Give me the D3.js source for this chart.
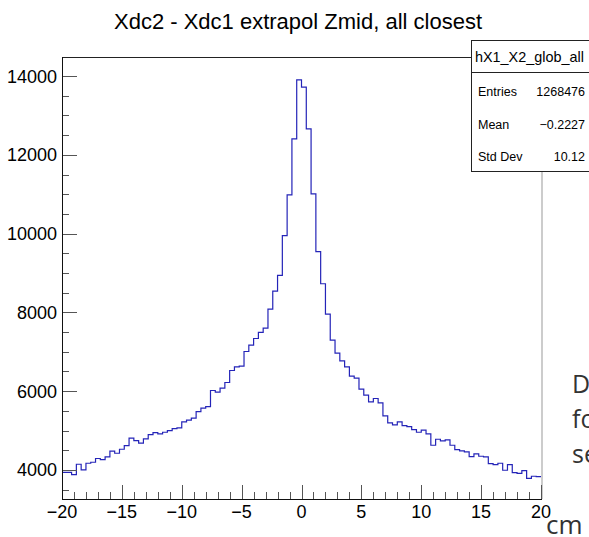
<!DOCTYPE html>
<html>
<head>
<meta charset="utf-8">
<script src="https://cdnjs.cloudflare.com/ajax/libs/d3/7.8.5/d3.min.js"></script>
<style>
    body { margin: 0; background: #fff; }
    svg { display: block; }
</style>
</head>
<body>
<script>
// histogram contents, 100 bins of 0.4 cm from -20 to 20
var binLow = -20;
var binWidth = 0.4;
var counts = [
    3940, 3940, 3880, 4144, 4000, 4170, 4195, 4290, 4263, 4330,
    4475, 4423, 4525, 4618, 4805, 4745, 4678, 4788, 4898, 4949,
    4915, 4957, 5000, 5050, 5067, 5220, 5262, 5313, 5482, 5567,
    5609, 6016, 5973, 6075, 6219, 6524, 6617, 6634, 7007, 7168,
    7337, 7490, 7600, 8083, 8541, 8938, 9947, 10981, 12404, 13903,
    13716, 12658, 11006, 9540, 8727, 7956, 7295, 6965, 6770, 6617,
    6380, 6329, 6050, 5897, 5728, 5813, 5702, 5372, 5194, 5143,
    5220, 5126, 5101, 5025, 4957, 5008, 4915, 4627, 4779, 4737,
    4762, 4627, 4517, 4483, 4457, 4339, 4407, 4347, 4330, 4161,
    4135, 4170, 3992, 4135, 3932, 3915, 3983, 3788, 3839, 3830
];
var xTicks = [-20, -15, -10, -5, 0, 5, 10, 15, 20];
var yTicks = [4000, 6000, 8000, 10000, 12000, 14000];
var statLabels = ["Entries", "Mean", "Std Dev"];
var statValues = ["1268476", "\u22120.2227", "10.12"];
var sideWords = ["D", "fo", "se"];

window.onload = function () {
    var W = 589, H = 537;
    var fLeft = 62, fRight = 541, fTop = 57, fBottom = 499;
    var font = "'Liberation Sans', Arial, sans-serif";

    var svg = d3.select("body")
        .append("svg")
        .attr("width", W)
        .attr("height", H);

    var x = d3.scaleLinear().domain([-20, 20]).range([fLeft, fRight]);
    var y = d3.scaleLinear().domain([3262, 14483]).range([fBottom, fTop]);

    //title
    svg.append("text")
        .attr("x", 298).attr("y", 29)
        .attr("text-anchor", "middle")
        .style("font-family", font).style("font-size", "22px")
        .text("Xdc2 - Xdc1 extrapol Zmid, all closest");

    // frame top + right (right edge shows light grey)
    svg.append("line")
        .attr("x1", fLeft).attr("x2", fRight).attr("y1", fTop + 0.5).attr("y2", fTop + 0.5)
        .attr("stroke", "#222");
    svg.append("line")
        .attr("x1", fRight + 1).attr("x2", fRight + 1).attr("y1", fTop).attr("y2", fBottom)
        .attr("stroke", "#999");

    // histogram step line
    var pts = [];
    counts.forEach(function (c, i) {
        var x0 = binLow + i * binWidth;
        pts.push([x(x0), y(c)]);
        pts.push([x(x0 + binWidth), y(c)]);
    });
    svg.append("path")
        .attr("d", d3.line()(pts))
        .attr("fill", "none")
        .attr("stroke", "#2424b8")
        .attr("stroke-width", 1.2);

    // x axis
    var xMinor = d3.range(-20, 21, 1);
    svg.selectAll(".xmin")
        .data(xMinor)
        .enter()
        .append("line")
        .attr("x1", function (d) { return Math.round(x(d)) + 0.5; })
        .attr("x2", function (d) { return Math.round(x(d)) + 0.5; })
        .attr("y1", fBottom)
        .attr("y2", function (d) { return d % 5 === 0 ? fBottom - 14 : fBottom - 7; })
        .attr("stroke", "#555");
    svg.selectAll(".xlab")
        .data(xTicks)
        .enter()
        .append("text")
        .attr("x", function (d) { return x(d); })
        .attr("y", 518)
        .attr("text-anchor", "middle")
        .style("font-family", font).style("font-size", "18px")
        .text(function (d) { return d < 0 ? "\u2212" + (-d) : d; });
    svg.append("line")
        .attr("x1", fLeft).attr("x2", fRight + 1).attr("y1", fBottom + 0.5).attr("y2", fBottom + 0.5)
        .attr("stroke", "#111");

    // y axis
    var yMinor = d3.range(3500, 14500, 500);
    svg.selectAll(".ymin")
        .data(yMinor)
        .enter()
        .append("line")
        .attr("y1", function (d) { return Math.round(y(d)) + 0.5; })
        .attr("y2", function (d) { return Math.round(y(d)) + 0.5; })
        .attr("x1", fLeft)
        .attr("x2", function (d) { return d % 2000 === 0 ? fLeft + 15 : fLeft + 7; })
        .attr("stroke", "#555");
    svg.selectAll(".ylab")
        .data(yTicks)
        .enter()
        .append("text")
        .attr("x", 57)
        .attr("y", function (d) { return y(d) + 6.5; })
        .attr("text-anchor", "end")
        .style("font-family", font).style("font-size", "18px")
        .text(function (d) { return d; });
    svg.append("line")
        .attr("x1", fLeft + 0.5).attr("x2", fLeft + 0.5).attr("y1", fTop).attr("y2", fBottom + 1)
        .attr("stroke", "#111");

    // stat box
    var box = svg.append("g");
    box.append("rect")
        .attr("x", 471.5).attr("y", 40.5).attr("width", 120).attr("height", 131)
        .attr("fill", "#fff").attr("stroke", "#222");
    box.append("line")
        .attr("x1", 471.5).attr("x2", 589).attr("y1", 72.5).attr("y2", 72.5)
        .attr("stroke", "#222");
    box.append("text")
        .attr("x", 475).attr("y", 62)
        .style("font-family", font).style("font-size", "14.4px")
        .text("hX1_X2_glob_all");
    box.selectAll(".slab")
        .data(statLabels)
        .enter()
        .append("text")
        .attr("x", 478)
        .attr("y", function (d, i) { return 96 + i * 32.5; })
        .style("font-family", font).style("font-size", "12.5px")
        .text(function (d) { return d; });
    box.selectAll(".sval")
        .data(statValues)
        .enter()
        .append("text")
        .attr("x", 585)
        .attr("y", function (d, i) { return 96 + i * 32.5; })
        .attr("text-anchor", "end")
        .style("font-family", font).style("font-size", "12.5px")
        .text(function (d) { return d; });

    // leftover slide text at the right edge
    svg.selectAll(".side")
        .data(sideWords)
        .enter()
        .append("text")
        .attr("x", 572)
        .attr("y", function (d, i) { return 393 + i * 35; })
        .style("font-family", "'Open Sans', sans-serif").style("font-size", "25px")
        .style("fill", "#333")
        .text(function (d) { return d; });
    svg.append("text")
        .attr("x", 546).attr("y", 534)
        .style("font-family", "'Open Sans', sans-serif").style("font-size", "26px")
        .style("fill", "#333")
        .text("cm");
};
</script>
</body>
</html>
